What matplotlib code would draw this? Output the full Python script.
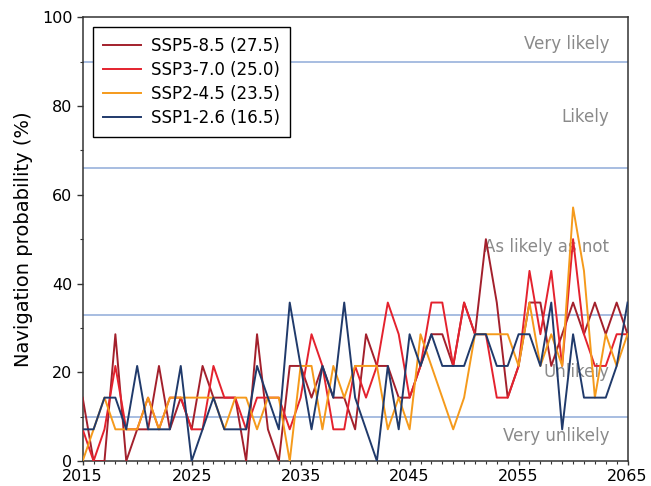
import numpy as np
import matplotlib
matplotlib.use('Agg')
import matplotlib.pyplot as plt
import matplotlib.transforms as mtransforms
from matplotlib.ticker import MultipleLocator

# yearly navigation probability (%) (steps of 1/14)
years = list(range(2015, 2066))
step = 100 / 14

ssp585 = [2, 0, 0, 4, 0, 1, 1, 3, 1, 2,
          1, 3, 2, 2, 2, 0, 4, 1, 0, 3,
          3, 2, 3, 2, 2, 1, 4, 3, 3, 2,
          2, 3, 4, 4, 3, 5, 4, 7, 5, 2,
          3, 5, 5, 3, 4, 5, 4, 5, 4, 5, 4]
ssp370 = [1, 0, 1, 3, 1, 1, 2, 1, 2, 2,
          1, 1, 3, 2, 2, 1, 2, 2, 2, 1,
          2, 4, 3, 1, 1, 3, 2, 3, 5, 4,
          2, 3, 5, 5, 3, 5, 4, 4, 2, 2,
          3, 6, 4, 6, 3, 7, 4, 3, 3, 4, 4]
ssp245 = [0, 1, 2, 1, 1, 1, 2, 1, 2, 2,
          2, 2, 2, 1, 2, 2, 1, 2, 2, 0,
          3, 3, 1, 3, 2, 3, 3, 3, 1, 2,
          1, 4, 3, 2, 1, 2, 4, 4, 4, 4,
          3, 5, 3, 4, 3, 8, 6, 2, 4, 3, 4]
ssp126 = [1, 1, 2, 2, 1, 3, 1, 1, 1, 3,
          0, 1, 2, 1, 1, 1, 3, 2, 1, 5,
          3, 1, 3, 2, 5, 2, 1, 0, 3, 1,
          4, 3, 4, 3, 3, 3, 4, 4, 3, 3,
          4, 4, 3, 5, 1, 4, 2, 2, 2, 3, 5]

series = [("SSP5-8.5 (27.5)", ssp585, "#a3202c"),
          ("SSP3-7.0 (25.0)", ssp370, "#e4222e"),
          ("SSP2-4.5 (23.5)", ssp245, "#f59a1b"),
          ("SSP1-2.6 (16.5)", ssp126, "#203a6b")]

xticks = [2015, 2025, 2035, 2045, 2055, 2065]
thresholds = [90, 66, 33, 10]
zone_labels = ["Very likely", "Likely", "As likely as not", "Unlikely", "Very unlikely"]
zone_label_y = [94, 77.6, 48.3, 20.1, 5.6]

fig = plt.figure(figsize=(6.51, 4.86), dpi=100)
ax = fig.add_axes([0.127, 0.0514, 0.837, 0.9130])

for t in thresholds:
    ax.axhline(t, color="#8fabd8", lw=1.1, zorder=1)

for label, vals, col in series:
    ax.plot(years, np.array(vals) * step, color=col, lw=1.4, label=label, zorder=3)

for txt, yy in zip(zone_labels, zone_label_y):
    ax.text(2063.3, yy, txt, ha="right", va="center", color="#8a8a8a",
            fontsize=12, zorder=2)

ax.set_xlim(2015, 2065)
ax.set_ylim(0, 100)
ax.set_xticks(xticks)
ax.xaxis.set_minor_locator(MultipleLocator(1))
ax.yaxis.set_major_locator(MultipleLocator(20))
ax.yaxis.set_minor_locator(MultipleLocator(10))
ax.tick_params(which="major", length=4, width=1, colors="#333333", labelsize=11.5,
               labelcolor="black")
ax.tick_params(which="minor", length=2.5, width=0.8, colors="#333333")
ax.tick_params(axis="x", which="major", length=3, pad=2.5)
for s in ax.spines.values():
    s.set_color("#333333")
    s.set_linewidth(1.1)

# nudge the "0" label up a little so it clears the "2015" below it
fig.canvas.draw()
zero_lbl = ax.get_yticklabels()[0]
zero_lbl.set_transform(zero_lbl.get_transform() +
                       mtransforms.ScaledTranslation(0, 4 / 100, fig.dpi_scale_trans))

ax.set_ylabel("Navigation probability (%)", fontsize=14, labelpad=6)

leg = ax.legend(loc="upper left", fontsize=12, frameon=True, fancybox=False,
                edgecolor="black", framealpha=1, handlelength=2.3,
                handletextpad=0.6, labelspacing=0.35, borderpad=0.6,
                borderaxespad=0.6)
leg.get_frame().set_linewidth(1.0)

fig.savefig("out.png", dpi=100)
